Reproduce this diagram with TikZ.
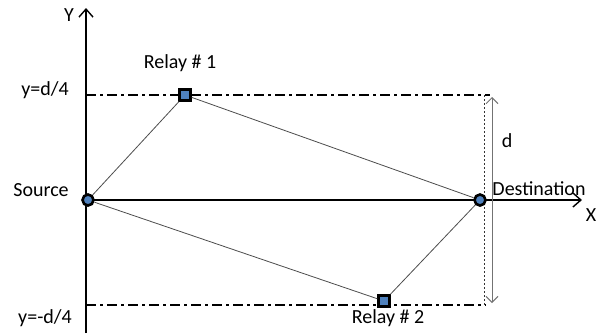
\documentclass[tikz,border=0pt]{standalone}
\usepackage{fontspec}
\setmainfont{Carlito}
\usetikzlibrary{arrows.meta,shadows}
\definecolor{nodeblue}{HTML}{4F81BD}
\begin{document}
\begin{tikzpicture}[x=1pt,y=-1pt,
  lbl/.style={font=\fontsize{20}{24}\selectfont, inner sep=0pt, text=black},
  axis/.style={line width=1.7pt, -{Straight Barb[length=8pt,width=14pt,line width=1.4pt]}},
  link/.style={draw=black!70, line width=0.8pt},
  dd/.style={line width=1.2pt, dash pattern=on 10pt off 4pt on 3pt off 4pt},
  nodeC/.style={circle, draw=black, line width=2.6pt, fill=nodeblue, minimum size=11pt, inner sep=0pt, drop shadow={shadow xshift=0pt,shadow yshift=-1.5pt,opacity=0.5}},
  nodeS/.style={rectangle, draw=black, line width=2.4pt, fill=nodeblue, minimum size=11pt, inner sep=0pt, drop shadow={shadow xshift=0pt,shadow yshift=-1.5pt,opacity=0.5}}
]
\useasboundingbox (0,0) rectangle (597,333);
\coordinate (yb) at (86,333);
\coordinate (yt) at (86,8);
\coordinate (xl) at (86,200);
\coordinate (xr) at (582,200);
\draw[axis] (yb) -- (yt);
\draw[axis] (xl) -- (xr);
\coordinate (t1) at (86,95);
\coordinate (t2) at (490,95);
\coordinate (b1) at (86,305);
\coordinate (b2) at (486,305);
\draw[dd] (t1) -- (t2);
\draw[dd] (b1) -- (b2);
\coordinate (v1) at (484,95);
\coordinate (v2) at (484,305);
\draw[line width=0.7pt, dash pattern=on 2pt off 2pt, black!80] (v1) -- (v2);
\coordinate (d1) at (492,97);
\coordinate (d2) at (492,303);
\draw[black!55, line width=1pt, {Straight Barb[length=6pt,width=12pt]}-{Straight Barb[length=6pt,width=12pt]}] (d1) -- (d2);
\node[nodeC] (src) at (88,200) {};
\node[nodeC] (dst) at (480,200) {};
\node[nodeS] (r1) at (185,95) {};
\node[nodeS] (r2) at (384,301) {};
\draw[link] (src) -- (r1);
\draw[link] (r1) -- (dst);
\draw[link] (src) -- (r2);
\draw[link] (r2) -- (dst);
\node[lbl] (ly) at (69,15) {Y};
\node[lbl] (lx) at (591,215) {X};
\node[lbl] (lyd) at (45,90) {y=d/4};
\node[lbl] (lymd) at (45,318) {y=-d/4};
\node[lbl] (lr1) at (180,63) {Relay \# 1};
\node[lbl] (lr2) at (388,318) {Relay \# 2};
\node[lbl] (ls) at (41,190) {Source};
\node[lbl] (ld) at (539,189) {Destination};
\node[lbl] (ldd) at (507,141) {d};
\end{tikzpicture}
\end{document}
